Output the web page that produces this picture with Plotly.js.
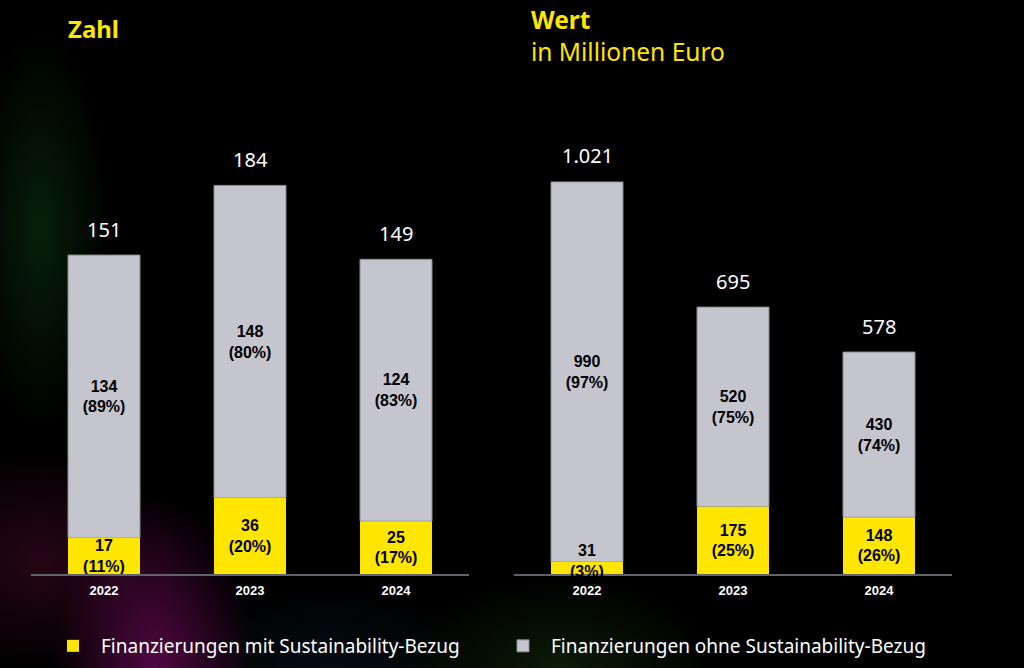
<!DOCTYPE html>
<html><head><meta charset="utf-8">
<script src="https://cdn.plot.ly/plotly-3.0.1.min.js"></script>
<style>
html,body{margin:0;padding:0;width:1024px;height:668px;overflow:hidden;background:#000;}
body{
 background:
  radial-gradient(ellipse 100px 170px at 155px 668px, rgba(110,10,90,0.75), rgba(0,0,0,0) 100%),
  radial-gradient(ellipse 140px 110px at 40px 560px, rgba(70,10,40,0.55), rgba(0,0,0,0) 100%),
  radial-gradient(ellipse 70px 200px at 40px 230px, rgba(10,45,12,0.7), rgba(0,0,0,0) 100%),
  radial-gradient(ellipse 160px 90px at 560px 668px, rgba(20,45,10,0.6), rgba(0,0,0,0) 100%),
  radial-gradient(ellipse 150px 80px at 330px 668px, rgba(10,30,40,0.45), rgba(0,0,0,0) 100%),
  #000;
}
#chart{width:1024px;height:668px;}
</style></head>
<body><div id="chart"></div>
<script>
const years = ['2022', '2023', '2024'];
const seriesNames = ['Finanzierungen mit Sustainability-Bezug', 'Finanzierungen ohne Sustainability-Bezug'];
// Zahl (count)
const countWith = [17, 36, 25];
const countWithout = [134, 148, 124];
const countTotal = [151, 184, 149];
const countPctWith = [11, 20, 17];
const countPctWithout = [89, 80, 83];
// Wert in Millionen Euro
const valueWith = [31, 175, 148];
const valueWithout = [990, 520, 430];
const valueTotal = [1021, 695, 578];
const valuePctWith = [3, 25, 26];
const valuePctWithout = [97, 75, 74];
const titleLeft = 'Zahl';
const titleRight = 'Wert';
const subtitleRight = 'in Millionen Euro';

const YELLOW = '#ffe600';
const GREY = '#c5c5cd';
const PX_LEFT = 2.112, PX_RIGHT = 0.384; // pixels per unit

function de(n){ return String(n).replace(/\B(?=(\d{3})+(?!\d))/g, '.'); }
function lbl(v, p){ return v.map((x,i)=> de(x) + '<br>(' + p[i] + '%)'); }

const insideFont = {family:'Liberation Sans, Arial, sans-serif', size:16, color:'#000', weight:'bold'};
function bar(x, y, base, text, color, name, xa, ya, show, pxPerUnit){
  // segments too short for their label get the label as an annotation instead
  const tp = y.map(v => v*pxPerUnit < 20 ? 'none' : 'inside');
  const t = {type:'bar', x:x, y:y, text:text, name:name, legendgroup:name, showlegend:show,
    xaxis:xa, yaxis:ya, marker:{color:color, line:{color: color===GREY ? '#8c8c96' : YELLOW, width: color===GREY?1:0}},
    textposition:tp, insidetextanchor:'middle', textangle:0, constraintext:'none',
    textfont:insideFont, cliponaxis:false, hoverinfo:'skip'};
  if (base) t.base = base;
  return t;
}

const data = [
  bar(years, countWithout, countWith, lbl(countWithout, countPctWithout), GREY, seriesNames[1], 'x', 'y', true, PX_LEFT),
  bar(years, countWith, null, lbl(countWith, countPctWith), YELLOW, seriesNames[0], 'x', 'y', true, PX_LEFT),
  bar(years, valueWithout, valueWith, lbl(valueWithout, valuePctWithout), GREY, seriesNames[1], 'x2', 'y2', false, PX_RIGHT),
  bar(years, valueWith, null, lbl(valueWith, valuePctWith), YELLOW, seriesNames[0], 'x2', 'y2', false, PX_RIGHT)
];

const totalFont = {family:'Noto Sans, sans-serif', size:20, color:'#ffffff'};
const annotations = [];
years.forEach((yr,i)=>{
  annotations.push({xref:'x', yref:'y', x:i, y:countTotal[i], text:de(countTotal[i]), showarrow:false, yanchor:'middle', yshift:26, font:totalFont});
  annotations.push({xref:'x2', yref:'y2', x:i, y:valueTotal[i], text:de(valueTotal[i]), showarrow:false, yanchor:'middle', yshift:26, font:totalFont});
  // short-segment labels, lifted a little so they sit above the baseline
  if (countWith[i]*PX_LEFT < 20) annotations.push({xref:'x', yref:'y', x:i, y:countWith[i]/2, yshift:7, showarrow:false, yanchor:'middle',
    text:lbl(countWith, countPctWith)[i], font:insideFont});
  if (valueWith[i]*PX_RIGHT < 20) annotations.push({xref:'x2', yref:'y2', x:i, y:valueWith[i]/2, yshift:7, showarrow:false, yanchor:'middle',
    text:lbl(valueWith, valuePctWith)[i], font:insideFont});
});
annotations.push({xref:'paper', yref:'paper', x:66/1024, y:1-28/668, xanchor:'left', yanchor:'middle', showarrow:false,
  text:'<b>'+titleLeft+'</b>', font:{family:'Noto Sans, sans-serif', size:24, color:YELLOW}});
annotations.push({xref:'paper', yref:'paper', x:529/1024, y:1-36/668, xanchor:'left', yanchor:'middle', showarrow:false, align:'left',
  text:'<b>'+titleRight+'</b><br>'+subtitleRight, font:{family:'Noto Sans, sans-serif', size:24.5, color:YELLOW}});

const xaxisBase = {type:'category', range:[-0.5,2.5], showline:true, linecolor:'#62626e', linewidth:2, ticks:'',
  showgrid:false, zeroline:false, fixedrange:true, ticklabelstandoff:3,
  tickfont:{family:'Liberation Sans, Arial, sans-serif', size:13, color:'#ffffff', weight:'bold'}};
const yDomain = [(668-574)/668, (668-120)/668];

const layout = {
  width:1024, height:668, autosize:false,
  margin:{l:0, r:0, t:0, b:0},
  paper_bgcolor:'rgba(0,0,0,0)', plot_bgcolor:'rgba(0,0,0,0)',
  barmode:'overlay', bargap:0.507,
  showlegend:true,
  legend:{orientation:'h', x:45/1024, xanchor:'left', y:1-646/668, yanchor:'middle',
    font:{family:'Noto Sans, sans-serif', size:19, color:'#ffffff'}, itemwidth:46, entrywidth:389,
    bgcolor:'rgba(0,0,0,0)', traceorder:'reversed'},
  xaxis:Object.assign({}, xaxisBase, {domain:[31/1024, 469/1024], anchor:'y'}),
  xaxis2:Object.assign({}, xaxisBase, {domain:[514/1024, 952/1024], anchor:'y2'}),
  yaxis:{domain:yDomain, range:[0, 454/PX_LEFT], visible:false, fixedrange:true, anchor:'x'},
  yaxis2:{domain:yDomain, range:[0, 454/PX_RIGHT], visible:false, fixedrange:true, anchor:'x2'},
  annotations:annotations
};

Plotly.newPlot('chart', data, layout, {displayModeBar:false, staticPlot:true});
</script>
</body></html>
